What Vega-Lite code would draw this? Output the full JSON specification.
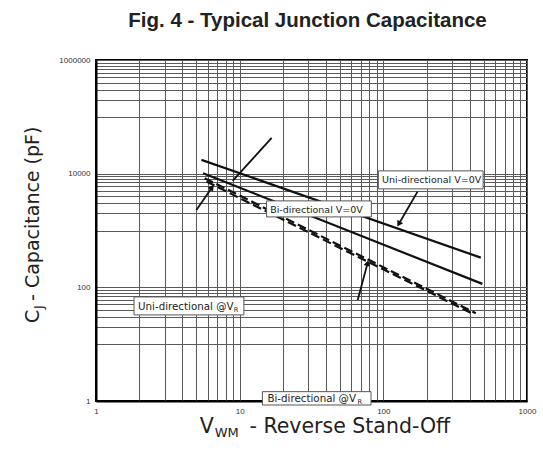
{
  "$schema": "https://vega.github.io/schema/vega-lite/v6.json",
  "width": 431,
  "height": 341,
  "autosize": "none",
  "padding": {"left": 96, "top": 60, "right": 16, "bottom": 56},
  "background": "#ffffff",
  "title": {"text": "Fig. 4 - Typical Junction Capacitance", "font": "Liberation Sans", "fontSize": 20.5, "fontWeight": "bold", "color": "#222222", "anchor": "middle", "frame": "group", "offset": 9, "baseline": "alphabetic", "dx": -4},
  "config": {"view": {"stroke": "#000000", "strokeWidth": 2}},
  "datasets": {
    "curves": [
      {"s": "uni0", "v": 5.42, "c": 17500}, {"s": "uni0", "v": 477, "c": 333},
      {"s": "bi0", "v": 5.56, "c": 10200}, {"s": "bi0", "v": 489, "c": 115},
      {"s": "uniR", "v": 5.71, "c": 8340}, {"s": "uniR", "v": 440, "c": 35},
      {"s": "biR", "v": 5.87, "c": 7260}, {"s": "biR", "v": 429, "c": 33.3}
    ],
    "leaders": [
      {"id": "a", "v": 16.7, "c": 42700}, {"id": "a", "v": 8.94, "c": 7470},
      {"id": "b", "v": 5.0, "c": 2305}, {"id": "b", "v": 6.36, "c": 5560},
      {"id": "c", "v": 173, "c": 4840}, {"id": "c", "v": 129, "c": 1343},
      {"id": "d", "v": 66.3, "c": 60}, {"id": "d", "v": 77.4, "c": 258}
    ],
    "heads": [
      {"id": "b", "v": 6.36, "c": 5560},
      {"id": "c", "v": 129, "c": 1343},
      {"id": "d", "v": 77.4, "c": 258}
    ],
    "boxes": [
      {"t": "uni0", "v": 92.3, "v2": 495, "c": 11200, "c2": 5400},
      {"t": "bi0", "v": 15.4, "v2": 82.5, "c": 3320, "c2": 1735},
      {"t": "uniR", "v": 1.84, "v2": 10.7, "c": 67.8, "c2": 32.7},
      {"t": "biR", "v": 14.4, "v2": 82.1, "c": 1.46, "c2": 0.85}
    ],
    "labels": [
      {"text": "Uni-directional V=0V", "v": 98, "c": 6800},
      {"text": "Bi-directional V=0V", "v": 16.3, "c": 2018}
    ],
    "rlabels": [
      {"text": "Uni-directional @V", "v": 1.96, "c": 40},
      {"text": "Bi-directional @V", "v": 15.6, "c": 0.96}
    ],
    "subs": [
      {"text": "R", "v": 9.09, "c": 36.9},
      {"text": "R", "v": 66, "c": 0.886}
    ],
    "xtitle": [
      {"k": "main", "text": "V", "v": 5.28, "c": 0.273},
      {"k": "sub", "text": "WM", "v": 6.7, "c": 0.232},
      {"k": "main", "text": "- Reverse Stand-Off", "v": 11.7, "c": 0.273}
    ],
    "ytitle": [
      {"k": "main", "text": "C", "v": 0.402, "c": 23.6},
      {"k": "sub", "text": "J", "v": 0.428, "c": 41.7},
      {"k": "main", "text": "- Capacitance (pF)", "v": 0.402, "c": 57.6}
    ]
  },
  "encoding": {
    "x": {
      "field": "v", "type": "quantitative",
      "scale": {"type": "log", "domain": [1, 1000], "nice": false},
      "axis": {
        "values": [1,2,3,4,5,6,7,8,9,10,20,30,40,50,60,70,80,90,100,200,300,400,500,600,700,800,900,1000],
        "grid": true, "gridColor": "#5a5a5a", "gridWidth": 1,
        "ticks": false, "domainColor": "#000000", "domainWidth": 2,
        "format": "d",
        "labelExpr": "indexof([1,10,100,1000], datum.value) >= 0 ? datum.label : ''",
        "labelFont": "Liberation Sans", "labelFontSize": 8, "labelColor": "#333333",
        "labelPadding": 6, "labelOverlap": false, "labelFlush": false, "title": null
      }
    },
    "y": {
      "field": "c", "type": "quantitative",
      "scale": {"type": "log", "domain": [1, 1000000], "nice": false},
      "axis": {
        "values": [1,10,20,30,40,50,60,70,80,90,100,1000,2000,3000,4000,5000,6000,7000,8000,9000,10000,100000,200000,300000,400000,500000,600000,700000,800000,900000,1000000],
        "grid": true, "gridColor": "#5a5a5a", "gridWidth": 1,
        "ticks": false, "domainColor": "#000000", "domainWidth": 2,
        "format": "d",
        "labelExpr": "indexof([1,100,10000,1000000], datum.value) >= 0 ? datum.label : ''",
        "labelFont": "Liberation Sans", "labelFontSize": 8, "labelColor": "#333333",
        "labelPadding": 6, "labelOverlap": false, "labelFlush": false, "title": null
      }
    }
  },
  "layer": [
    {
      "data": {"name": "curves"},
      "transform": [{"filter": "datum.s == 'uni0' || datum.s == 'bi0'"}],
      "mark": {"type": "line", "color": "#111111", "strokeWidth": 2.2},
      "encoding": {"detail": {"field": "s"}}
    },
    {
      "data": {"name": "curves"},
      "transform": [{"filter": "datum.s == 'uniR' || datum.s == 'biR'"}],
      "mark": {"type": "line", "color": "#111111", "strokeWidth": 2.2, "strokeDash": [9, 4]},
      "encoding": {"detail": {"field": "s"}}
    },
    {
      "data": {"name": "leaders"},
      "mark": {"type": "line", "color": "#111111", "strokeWidth": 1.8},
      "encoding": {"detail": {"field": "id"}}
    },
    {
      "data": {"name": "heads"},
      "transform": [{"filter": "datum.id == 'b'"}],
      "mark": {"type": "point", "shape": "triangle", "filled": true, "color": "#111111", "size": 45, "angle": 35, "opacity": 1}
    },
    {
      "data": {"name": "heads"},
      "transform": [{"filter": "datum.id == 'c'"}],
      "mark": {"type": "point", "shape": "triangle", "filled": true, "color": "#111111", "size": 45, "angle": 210, "opacity": 1}
    },
    {
      "data": {"name": "heads"},
      "transform": [{"filter": "datum.id == 'd'"}],
      "mark": {"type": "point", "shape": "triangle", "filled": true, "color": "#111111", "size": 45, "angle": 15, "opacity": 1}
    },
    {
      "data": {"name": "boxes"},
      "mark": {"type": "rect", "fill": "#ffffff", "stroke": "#555555", "strokeWidth": 1},
      "encoding": {"x2": {"field": "v2"}, "y2": {"field": "c2"}}
    },
    {
      "data": {"name": "labels"},
      "mark": {"type": "text", "align": "left", "baseline": "alphabetic", "font": "DejaVu Sans", "fontSize": 9.5, "color": "#222222"},
      "encoding": {"text": {"field": "text"}}
    },
    {
      "data": {"name": "rlabels"},
      "mark": {"type": "text", "align": "left", "baseline": "alphabetic", "font": "DejaVu Sans", "fontSize": 10.3, "color": "#222222"},
      "encoding": {"text": {"field": "text"}}
    },
    {
      "data": {"name": "subs"},
      "mark": {"type": "text", "align": "left", "baseline": "alphabetic", "font": "DejaVu Sans", "fontSize": 6.5, "color": "#222222"},
      "encoding": {"text": {"field": "text"}}
    },
    {
      "data": {"name": "xtitle"},
      "transform": [{"filter": "datum.k == 'main'"}],
      "mark": {"type": "text", "align": "left", "baseline": "alphabetic", "font": "DejaVu Sans", "fontSize": 20.5, "color": "#222222"},
      "encoding": {"text": {"field": "text"}}
    },
    {
      "data": {"name": "xtitle"},
      "transform": [{"filter": "datum.k == 'sub'"}],
      "mark": {"type": "text", "align": "left", "baseline": "alphabetic", "font": "DejaVu Sans", "fontSize": 13, "color": "#222222"},
      "encoding": {"text": {"field": "text"}}
    },
    {
      "data": {"name": "ytitle"},
      "transform": [{"filter": "datum.k == 'main'"}],
      "mark": {"type": "text", "align": "left", "baseline": "alphabetic", "angle": 270, "font": "DejaVu Sans", "fontSize": 19, "color": "#222222"},
      "encoding": {"text": {"field": "text"}}
    },
    {
      "data": {"name": "ytitle"},
      "transform": [{"filter": "datum.k == 'sub'"}],
      "mark": {"type": "text", "align": "left", "baseline": "alphabetic", "angle": 270, "font": "DejaVu Sans", "fontSize": 13, "color": "#222222"},
      "encoding": {"text": {"field": "text"}}
    }
  ]
}
